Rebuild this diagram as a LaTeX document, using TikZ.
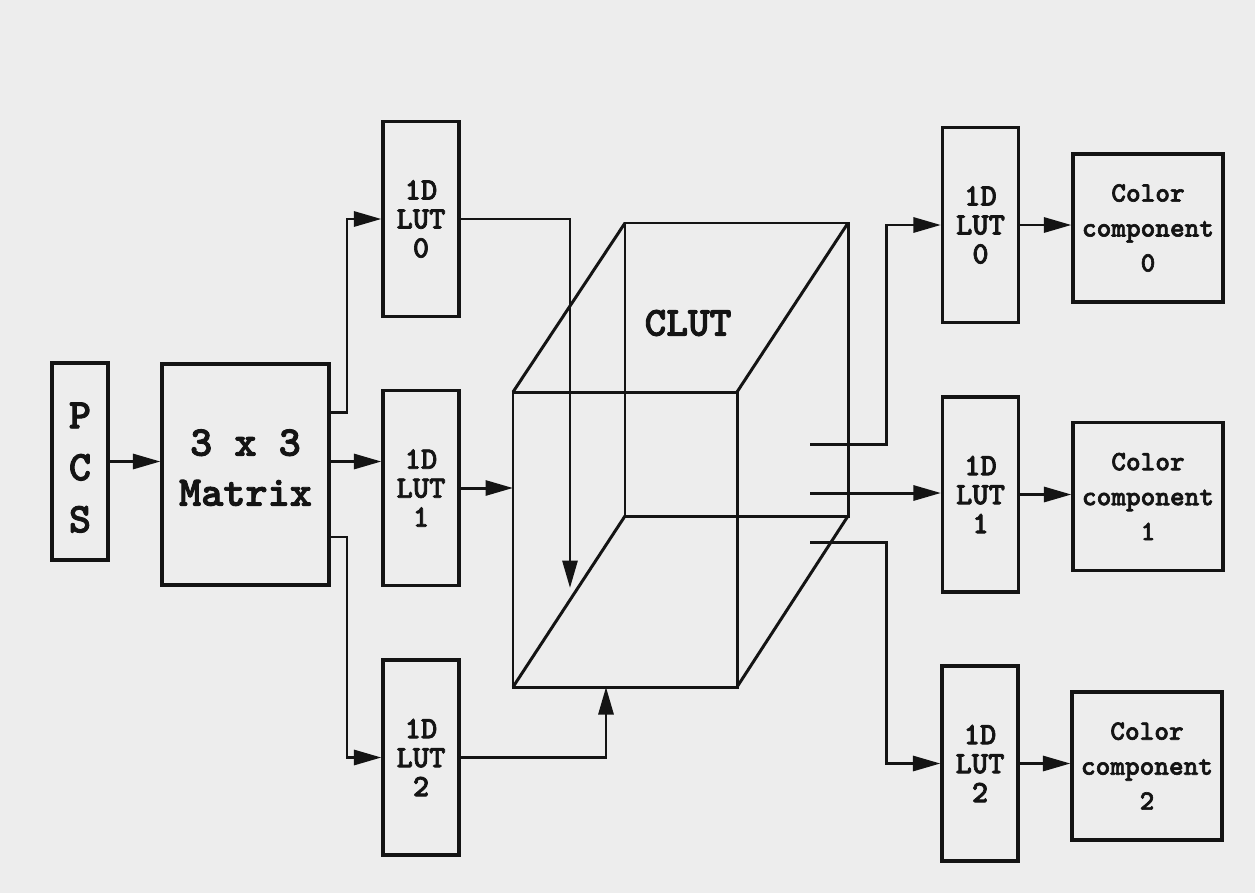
\documentclass[tikz,border=0pt]{standalone}
\usepackage{fontspec}
\setmainfont{lmmonolt10-bold.otf}[FakeBold=2.2]
\usepackage{xcolor}
\usetikzlibrary{arrows.meta,positioning,calc}
\definecolor{paper}{RGB}{237,237,237}
\definecolor{ink}{RGB}{20,20,20}

\begin{document}
\begin{tikzpicture}[
 x=0.02cm,y=-0.02cm,
 line width=1.7pt,draw=ink,
 every node/.style={text=ink},
 blk/.style={draw=ink,line width=1.8pt,align=center,inner sep=0pt},
 lutbox/.style={blk,minimum width=1.52cm,minimum height=3.9cm,font=\fontsize{17.7}{16.5}\selectfont},
 outbox/.style={blk,minimum width=3cm,minimum height=2.96cm,font=\fontsize{15.9}{19.9}\selectfont},
 arr/.style={-{Triangle[length=5.5mm,width=3mm]},line width=1.7pt,ink}
]
\fill[paper] (0,0) rectangle (1255,893);
\useasboundingbox (0,0) rectangle (1255,893);
% input side
\node[blk,minimum width=1.12cm,minimum height=3.94cm,text height=2.84cm,font=\fontsize{24}{29.6}\selectfont] (pcs) at (80,461.5) {P\\C\\S};
\node[blk,minimum width=3.34cm,minimum height=4.42cm,text depth=0.28cm,font=\fontsize{24}{28.5}\selectfont] (matrix) at (245.5,474.5) {3 x 3\\Matrix};
\node[lutbox] (lut0) at (421,219) {1D\\LUT\\0};
\node[lutbox] (lut1) at (421,488) {1D\\LUT\\1};
\node[lutbox] (lut2) at (421,757.5) {1D\\LUT\\2};
% output side
\node[lutbox] (olut0) at (980.5,225) {1D\\LUT\\0};
\node[lutbox] (olut1) at (980.5,494.5) {1D\\LUT\\1};
\node[lutbox] (olut2) at (980,763.5) {1D\\LUT\\2};
\node[outbox] (comp0) at (1148,228) {Color\\component\\0};
\node[outbox] (comp1) at (1148,496.5) {Color\\component\\1};
\node[outbox] (comp2) at (1147,766) {Color\\component\\2};
% the CLUT cube
\coordinate (fa) at (513,392); \coordinate (fb) at (737,392);
\coordinate (fc) at (737,687); \coordinate (fd) at (513,687);
\coordinate (ba) at (625,223); \coordinate (bb) at (848,223);
\coordinate (bc) at (848,516); \coordinate (bd) at (625,516);
\draw (fa)--(fb)--(fc)--(fd)--cycle;
\draw (ba)--(bb)--(bc)--(bd)--cycle;
\draw (fa)--(ba) (fb)--(bb) (fc)--(bc) (fd)--(bd);
\node[font=\fontsize{23.5}{24}\selectfont] (clut) at (688,323) {CLUT};
\coordinate (in0) at (570,588);
\coordinate (in2) at (606,687);
\coordinate (o0) at (810,444);
\coordinate (o1) at (810,493);
\coordinate (o2) at (810,542);
\coordinate (lbus) at (347,0);
\coordinate (rbus) at (886,0);
% connectors
\draw[arr] (pcs.east) -- (pcs.east -| matrix.west);
\draw[arr] ([yshift=1.24cm]matrix.east) -| (lbus |- lut0.west) -- (lut0.west);
\draw[arr] (pcs.east -| matrix.east) -- (pcs.east -| lut1.west);
\draw[arr] ([yshift=-1.25cm]matrix.east) -| (lbus |- lut2.west) -- (lut2.west);
\draw[arr] (lut0.east) -| (in0);
\draw[arr] (lut1.east) -- (lut1.east -| fa);
\draw[arr] (lut2.east) -| (in2);
\draw[arr] (o0) -| (rbus |- olut0.west) -- (olut0.west);
\draw[arr] (o1) -- (o1 -| olut1.west);
\draw[arr] (o2) -| (rbus |- olut2.west) -- (olut2.west);
\draw[arr] (olut0.east) -- (olut0.east -| comp0.west);
\draw[arr] (olut1.east) -- (olut1.east -| comp1.west);
\draw[arr] (olut2.east) -- (olut2.east -| comp2.west);
\end{tikzpicture}
\end{document}
